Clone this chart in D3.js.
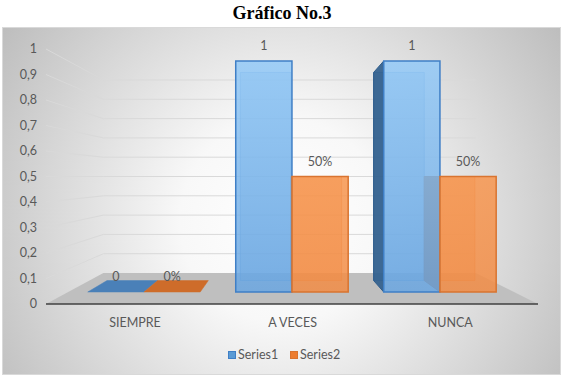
<!DOCTYPE html>
<html>
<head>
<meta charset="utf-8">
<script src="https://cdn.jsdelivr.net/npm/d3@7"></script>
<style>
  body { margin: 0; background: #fff; }
  text { font-family: Lato, 'Open Sans', sans-serif; }
</style>
</head>
<body>
<script>
// chart values
var categories = ['SIEMPRE', 'A VECES', 'NUNCA']
var seriesNames = ['Series1', 'Series2']
var series1 = [0, 1, 1]
var series2 = [0, 0.5, 0.5]
var yTicks = [0, 0.1, 0.2, 0.3, 0.4, 0.5, 0.6, 0.7, 0.8, 0.9, 1]

var width = 563
var height = 376
var fontSize = '12.5px'

// 3d look: everything is drawn on the front plane and pulled toward a vanishing point
var vp = [282, 176.5]
var depth = { axis: 1, label: 0.965, front: 0.906, back: 0.816, wall: 0.757 }
function proj (X, Y, s) { return [vp[0] + s * (X - vp[0]), vp[1] + s * (Y - vp[1])] }

var plotLeft = 46
var plotRight = 538

var x0 = d3.scaleBand()
  .domain(categories)
  .range([plotLeft + 2, plotRight])
  .paddingInner(0.24)
  .paddingOuter(0.12)

var x1 = d3.scaleBand()
  .domain([0, 1])
  .range([0, x0.bandwidth()])

var y = d3.scaleLinear()
  .domain([0, 1])
  .range([304, 49])

var locale = d3.formatLocale({ decimal: ',', thousands: '.', grouping: [3], currency: ['', ''] })
var tickFmt = function (d) { return d === 0 || d === 1 ? String(d) : locale.format(',.1f')(d) }
var fmt1 = d3.format('d')
var fmt2 = d3.format('.0%')

var colors = ['#5B9BD5', '#ED7D31']
var frontFill = ['url(#gBlue)', 'url(#gOrange)']
var strokeCol = ['#3F7FC6', '#D97430']
var sideCol = ['#2F5D8C', '#A8561F']
var topCol = ['#4A80B8', '#CE6C2A']

var svg = d3.select('body').append('svg')
  .attr('width', width)
  .attr('height', height)

var defs = svg.append('defs')
var bg = defs.append('radialGradient').attr('id', 'bg')
  .attr('gradientUnits', 'userSpaceOnUse')
  .attr('cx', 282).attr('cy', 220).attr('r', 340)
bg.append('stop').attr('offset', 0).attr('stop-color', '#ffffff')
bg.append('stop').attr('offset', 0.3).attr('stop-color', '#f8f8f8')
bg.append('stop').attr('offset', 1).attr('stop-color', '#bdbdbd')

var gb = defs.append('linearGradient').attr('id', 'gBlue').attr('x1', 0).attr('y1', 0).attr('x2', 0).attr('y2', 1)
gb.append('stop').attr('offset', 0).attr('stop-color', '#93C9F7')
gb.append('stop').attr('offset', 1).attr('stop-color', '#6AA6E1')
var go = defs.append('linearGradient').attr('id', 'gOrange').attr('x1', 0).attr('y1', 0).attr('x2', 0).attr('y2', 1)
go.append('stop').attr('offset', 0).attr('stop-color', '#F7964F')
go.append('stop').attr('offset', 1).attr('stop-color', '#F28C45')

// chart area
svg.append('rect')
  .attr('x', 2.5).attr('y', 27.5)
  .attr('width', 558).attr('height', 347)
  .attr('fill', 'url(#bg)')
  .attr('stroke', '#d9d9d9')

svg.append('text')
  .attr('x', 282).attr('y', 19)
  .attr('text-anchor', 'middle')
  .style('font-family', "'Liberation Serif', 'Times New Roman', serif")
  .style('font-weight', 'bold')
  .style('font-size', '18px')
  .text('Gráfico No.3')

var line = d3.line()

// floor
var floor = [
  proj(plotLeft, y(0), depth.axis), proj(plotRight, y(0), depth.axis),
  proj(plotRight, y(0), depth.wall), proj(plotLeft, y(0), depth.wall)
]
svg.append('path')
  .attr('d', line(floor) + 'Z')
  .attr('fill', '#bfbfbf')

// gridlines: side wall then back wall
svg.append('g').selectAll('path')
  .data(yTicks)
  .join('path')
  .attr('d', function (d) {
    return line([proj(plotLeft, y(d), depth.axis), proj(plotLeft, y(d), depth.wall), proj(plotRight, y(d), depth.wall)])
  })
  .attr('fill', 'none')
  .attr('stroke', function (d) { return d === 0 ? 'none' : '#d9d9d9' })
  .attr('stroke-width', 1)

// y labels
svg.append('g').selectAll('text')
  .data(yTicks)
  .join('text')
  .attr('x', 37)
  .attr('y', function (d) { return y(d) })
  .attr('dy', '0.35em')
  .attr('text-anchor', 'end')
  .attr('fill', '#595959')
  .style('font-size', fontSize)
  .text(tickFmt)

// bars
var bars = []
categories.forEach(function (c, i) {
  [series1, series2].forEach(function (s, k) {
    var X0 = x0(c) + x1(k)
    bars.push({ cat: c, k: k, v: s[i], X0: X0, X1: X0 + x1.bandwidth() })
  })
})

function face (pts) { return line(pts) + 'Z' }
function F (X, Y) { return proj(X, Y, depth.front) }
function B (X, Y) { return proj(X, Y, depth.back) }

var gBars = svg.append('g')

// back faces
bars.forEach(function (b) {
  if (b.v === 0) return
  var yb = y(0)
  var yt = y(b.v)
  gBars.append('path')
    .attr('d', face([B(b.X0, yb), B(b.X1, yb), B(b.X1, yt), B(b.X0, yt)]))
    .attr('fill', colors[b.k]).attr('fill-opacity', 0.35)
    .attr('stroke', strokeCol[b.k]).attr('stroke-opacity', 0.5)
})

// side and top faces
bars.forEach(function (b) {
  var yb = y(0)
  var yt = y(b.v)
  if (b.v > 0 && F(b.X0, yt)[0] > B(b.X0, yt)[0]) {
    gBars.append('path')
      .attr('d', face([F(b.X0, yb), F(b.X0, yt), B(b.X0, yt), B(b.X0, yb)]))
      .attr('fill', sideCol[b.k]).attr('fill-opacity', 0.9)
      .attr('stroke', sideCol[b.k])
  }
  if (b.v > 0 && F(b.X1, yt)[0] < B(b.X1, yt)[0]) {
    gBars.append('path')
      .attr('d', face([F(b.X1, yb), F(b.X1, yt), B(b.X1, yt), B(b.X1, yb)]))
      .attr('fill', sideCol[b.k]).attr('fill-opacity', 0.9)
      .attr('stroke', sideCol[b.k])
  }
  if (yt > vp[1]) {
    gBars.append('path')
      .attr('d', face([F(b.X0, yt), F(b.X1, yt), B(b.X1, yt), B(b.X0, yt)]))
      .attr('fill', topCol[b.k])
      .attr('stroke', topCol[b.k]).attr('stroke-width', 0.5)
  }
})

// front faces
bars.forEach(function (b) {
  if (b.v === 0) return
  var yb = y(0)
  var yt = y(b.v)
  gBars.append('path')
    .attr('d', face([F(b.X0, yb), F(b.X1, yb), F(b.X1, yt), F(b.X0, yt)]))
    .attr('fill', frontFill[b.k]).attr('fill-opacity', 0.85)
    .attr('stroke', strokeCol[b.k]).attr('stroke-width', 1.5)
})

// floor front edge
svg.append('path')
  .attr('d', line([proj(plotLeft, y(0), depth.axis), proj(plotRight, y(0), depth.axis)]))
  .attr('stroke', '#404040').attr('stroke-width', 1.5)

// data labels
svg.append('g').selectAll('text')
  .data(bars)
  .join('text')
  .attr('x', function (d) { return (F(d.X0, y(d.v))[0] + F(d.X1, y(d.v))[0]) / 2 })
  .attr('y', function (d) { return F(d.X0, y(d.v))[1] - 15 })
  .attr('dy', '0.35em')
  .attr('text-anchor', 'middle')
  .attr('fill', '#595959')
  .style('font-size', fontSize)
  .text(function (d) { return d.k === 0 ? fmt1(d.v) : fmt2(d.v) })

// category labels
svg.append('g').selectAll('text')
  .data(categories)
  .join('text')
  .attr('x', function (d) { return proj(x0(d) + x0.bandwidth() / 2, y(0), depth.label)[0] })
  .attr('y', 323)
  .attr('dy', '0.35em')
  .attr('text-anchor', 'middle')
  .attr('fill', '#595959')
  .style('font-size', fontSize)
  .text(function (d) { return d })

// legend
var legend = svg.append('g').attr('transform', 'translate(228,355)')
var item = legend.selectAll('g')
  .data(seriesNames)
  .join('g')
  .attr('transform', function (d, i) { return 'translate(' + (i * 62) + ',0)' })
item.append('rect')
  .attr('x', 0.5).attr('y', -3.5)
  .attr('width', 7).attr('height', 7)
  .attr('fill', function (d, i) { return colors[i] })
  .attr('stroke', function (d, i) { return strokeCol[i] })
item.append('text')
  .attr('x', 10).attr('y', 0)
  .attr('dy', '0.35em')
  .attr('fill', '#595959')
  .style('font-size', fontSize)
  .text(function (d) { return d })
</script>
</body>
</html>
